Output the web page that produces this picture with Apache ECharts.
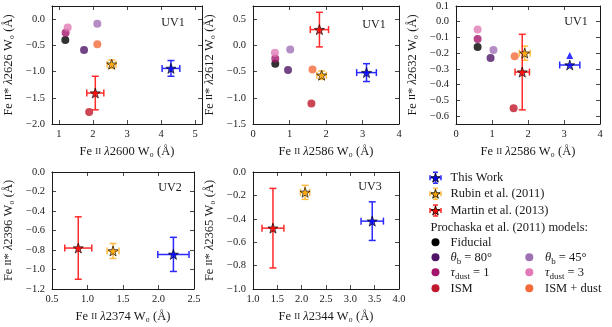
<!DOCTYPE html>
<html>
<head>
<meta charset="utf-8">
<script src="https://cdn.jsdelivr.net/npm/echarts@6/dist/echarts.min.js"></script>
<style>
  html, body { margin: 0; padding: 0; background: #fff; }
  #chart { width: 612px; height: 327px; }
</style>
</head>
<body>
<div id="chart"></div>
<script>
// model order: Fiducial, theta80, tau1, ISM, theta45, tau3, ISM+dust
const modelNames = ["Fiducial", "θb = 80°", "τdust = 1", "ISM", "θb = 45°", "τdust = 3", "ISM + dust"];

// panel 1: Fe II 2600 vs Fe II* 2626
const p1ModelX = [1.19, 1.74, 1.20, 1.89, 2.13, 1.26, 2.13];
const p1ModelY = [-0.40, -0.59, -0.26, -1.77, -0.09, -0.16, -0.48];
// panel 2: Fe II 2586 vs Fe II* 2612
const p2ModelX = [0.61, 0.96, 0.61, 1.60, 1.02, 0.60, 1.63];
const p2ModelY = [-0.35, -0.47, -0.25, -1.11, -0.08, -0.14, -0.46];
// panel 3: Fe II 2586 vs Fe II* 2632
const p3ModelX = [0.60, 0.96, 0.60, 1.60, 1.04, 0.60, 1.63];
const p3ModelY = [-0.16, -0.23, -0.11, -0.55, -0.18, -0.05, -0.22];

// observations [x, y, xerr, yerr]
const thisWork = [[4.29, -0.94, 0.26, 0.15], [3.11, -0.52, 0.27, 0.17], [3.16, -0.275, 0.28, 0], [2.21, -0.845, 0.22, 0.175], [3.45, -0.42, 0.23, 0.165]];
const rubin = [[2.55, -0.86, 0.13, 0.08], [1.88, -0.57, 0.13, 0.08], [1.91, -0.20, 0.15, 0.045], [1.36, -0.81, 0.084, 0.077], [2.07, -0.174, 0.095, 0.06]];
const martin = [[2.07, -1.41, 0.25, 0.32], [1.82, 0.30, 0.25, 0.33], [1.84, -0.32, 0.20, 0.24], [0.87, -0.78, 0.19, 0.32], [1.41, -0.48, 0.225, 0.34]];
const thisWorkLimitP3 = [[3.16, -0.215]];

// axes
const xLines = ["2600", "2586", "2586", "2374", "2344"];
const yLines = ["2626", "2612", "2632", "2396", "2365"];
const panelTags = ["UV1", "UV1", "UV1", "UV2", "UV3"];
const xRanges = [[0.8, 5.2], [0, 4], [0, 4], [0.5, 2.5], [1, 4]];
const yRanges = [[-2.0, 0.25], [-1.5, 0.75], [-0.65, 0.1], [-1.2, 0], [-1.0, 0]];
const xTicks = [[1, 2, 3, 4, 5], [0, 1, 2, 3, 4], [0, 1, 2, 3, 4], [0.5, 1.0, 1.5, 2.0, 2.5], [1.0, 1.5, 2.0, 2.5, 3.0, 3.5, 4.0]];
const yTicks = [[-2.0, -1.5, -1.0, -0.5, 0.0], [-1.5, -1.0, -0.5, 0.0, 0.5], [-0.6, -0.5, -0.4, -0.3, -0.2, -0.1, 0.0, 0.1], [-1.2, -1.0, -0.8, -0.6, -0.4, -0.2, 0.0], [-1.0, -0.8, -0.6, -0.4, -0.2, 0.0]];
const xDec = [0, 0, 0, 1, 1];
const yDec = [1, 1, 1, 1, 1];

const FONT = "'Liberation Serif', 'DejaVu Serif', serif";
const INK = "#1a1a1a";
const modelColors = ["#000000", "#4f1466", "#a3156a", "#c0182c", "#a070b5", "#e17ab7", "#f46a3a"];
const obsStyle = [
  { name: "This Work", fill: "#0000ff", bar: "#2a2aff" },
  { name: "Rubin et al. (2011)", fill: "#ffa500", bar: "#ffbb44" },
  { name: "Martin et al. (2013)", fill: "#ff0000", bar: "#ff2a2a" }
];
const grids = [
  { left: 52, top: 6, width: 150, height: 118 },
  { left: 253, top: 6, width: 146, height: 118 },
  { left: 456, top: 6, width: 144, height: 118 },
  { left: 52, top: 172, width: 142, height: 117 },
  { left: 253, top: 172, width: 146, height: 117 }
];
const tagPos = [[173, 23], [374, 25], [576, 22], [170, 187.5], [370, 186.5]];

const STAR = "path://M0,-10L2.35,-3.24L9.51,-3.09L3.8,1.24L5.88,8.09L0,4L-5.88,8.09L-3.8,1.24L-9.51,-3.09L-2.35,-3.24Z";

const nameRich = {
  n: { fontFamily: FONT, fontSize: 12.5, color: INK },
  sc: { fontFamily: FONT, fontSize: 9, color: INK },
  i: { fontFamily: FONT, fontSize: 12.5, fontStyle: "italic", color: INK }
};

function fmt(v, d) {
  return v.toFixed(d).replace("-", "\u2212");
}

function errRender(params, api) {
  const x = api.value(0), y = api.value(1), ex = api.value(2), ey = api.value(3);
  const color = api.visual("color");
  const cap = 3.5;
  const style = { stroke: color, lineWidth: 1.5 };
  const kids = [];
  if (ex > 0) {
    const l = api.coord([x - ex, y]), r = api.coord([x + ex, y]);
    kids.push({ type: "line", shape: { x1: l[0], y1: l[1], x2: r[0], y2: r[1] }, style: style });
    kids.push({ type: "line", shape: { x1: l[0], y1: l[1] - cap, x2: l[0], y2: l[1] + cap }, style: style });
    kids.push({ type: "line", shape: { x1: r[0], y1: r[1] - cap, x2: r[0], y2: r[1] + cap }, style: style });
  }
  if (ey > 0) {
    const t = api.coord([x, y + ey]), b = api.coord([x, y - ey]);
    kids.push({ type: "line", shape: { x1: t[0], y1: t[1], x2: b[0], y2: b[1] }, style: style });
    kids.push({ type: "line", shape: { x1: t[0] - cap, y1: t[1], x2: t[0] + cap, y2: t[1] }, style: style });
    kids.push({ type: "line", shape: { x1: b[0] - cap, y1: b[1], x2: b[0] + cap, y2: b[1] }, style: style });
  }
  return { type: "group", children: kids };
}

const xAxes = [], yAxes = [], series = [];
const models = [[p1ModelX, p1ModelY], [p2ModelX, p2ModelY], [p3ModelX, p3ModelY]];

grids.forEach(function (g, i) {
  const tickBase = { show: true, inside: true, length: 4, lineStyle: { color: INK, width: 0.8 } };
  const lineBase = { show: true, onZero: false, lineStyle: { color: INK, width: 1 } };
  xAxes.push({
    type: "value", gridIndex: i, position: "bottom", min: xRanges[i][0], max: xRanges[i][1],
    axisLine: lineBase, splitLine: { show: false },
    axisTick: Object.assign({ customValues: xTicks[i] }, tickBase),
    axisLabel: { customValues: xTicks[i], margin: 5, fontFamily: FONT, fontSize: 10.5, color: INK,
      formatter: function (v) { return fmt(v, xDec[i]); } },
    name: "{n|Fe }{sc|II}{n| }{i|λ}{n|" + xLines[i] + " W₀ (Å)}",
    nameLocation: "middle", nameGap: 21, nameTextStyle: { rich: nameRich }
  });
  xAxes.push({
    type: "value", gridIndex: i, position: "top", min: xRanges[i][0], max: xRanges[i][1],
    axisLine: lineBase, splitLine: { show: false },
    axisTick: Object.assign({ customValues: xTicks[i] }, tickBase),
    axisLabel: { show: false }
  });
  yAxes.push({
    type: "value", gridIndex: i, position: "left", min: yRanges[i][0], max: yRanges[i][1],
    axisLine: lineBase, splitLine: { show: false },
    axisTick: Object.assign({ customValues: yTicks[i] }, tickBase),
    axisLabel: { customValues: yTicks[i], margin: 7, fontFamily: FONT, fontSize: 10.5, color: INK,
      formatter: function (v) { return fmt(v, yDec[i]); } },
    name: "{n|Fe }{sc|II}{n|* }{i|λ}{n|" + yLines[i] + " W₀ (Å)}",
    nameLocation: "middle", nameGap: 37, nameRotate: 90, nameTextStyle: { rich: nameRich }
  });
  yAxes.push({
    type: "value", gridIndex: i, position: "right", min: yRanges[i][0], max: yRanges[i][1],
    axisLine: lineBase, splitLine: { show: false },
    axisTick: Object.assign({ customValues: yTicks[i] }, tickBase),
    axisLabel: { show: false }
  });

  const ax = { xAxisIndex: 2 * i, yAxisIndex: 2 * i };
  if (i < 3) {
    series.push(Object.assign({
      type: "scatter", symbol: "circle", symbolSize: 8, z: 2, silent: true,
      data: models[i][0].map(function (x, k) {
        return { value: [x, models[i][1][k]], itemStyle: { color: modelColors[k] } };
      })
    }, ax));
  }
  [thisWork, rubin, martin].forEach(function (set, s) {
    series.push(Object.assign({
      type: "custom", name: obsStyle[s].name, z: 3, silent: true,
      itemStyle: { color: obsStyle[s].bar },
      renderItem: errRender, encode: { x: 0, y: 1 },
      data: [set[i]]
    }, ax));
    series.push(Object.assign({
      type: "scatter", symbol: STAR, symbolSize: 10, z: 4, silent: true,
      itemStyle: { color: obsStyle[s].fill, borderColor: "#000", borderWidth: 0.8 },
      data: [[set[i][0], set[i][1]]]
    }, ax));
  });
  if (i === 2) {
    series.push(Object.assign({
      type: "scatter", symbol: "triangle", symbolSize: 7, z: 4, silent: true,
      itemStyle: { color: "#0000ff" }, data: thisWorkLimitP3
    }, ax));
  }
});

// legend drawn as graphic
const measureCtx = document.createElement("canvas").getContext("2d");
function textWidth(t, size, italic) {
  measureCtx.font = (italic ? "italic " : "") + size + "px " + FONT;
  return measureCtx.measureText(t).width;
}
function richPieces(x, y, parts) {
  // parts: [text, kind] kind: n, i, sub
  const out = [];
  let cx = x;
  parts.forEach(function (p) {
    const sub = p[1] === "sub";
    const size = sub ? 9 : 12.5;
    const italic = p[1] === "i";
    out.push({ type: "text", x: cx, y: sub ? y + 4 : y,
      style: { text: p[0], fontFamily: FONT, fontSize: size, fontStyle: italic ? "italic" : "normal",
        fill: INK, verticalAlign: "middle" } });
    cx += textWidth(p[0], size, italic);
  });
  return out;
}
function starPts(cx, cy, R) {
  const pts = [];
  for (let k = 0; k < 10; k++) {
    const rr = k % 2 === 0 ? R : R * 0.4;
    const a = -Math.PI / 2 + k * Math.PI / 5;
    pts.push([cx + rr * Math.cos(a), cy + rr * Math.sin(a)]);
  }
  return pts;
}
const graphic = [];
panelTags.forEach(function (t, i) {
  graphic.push({ type: "text", x: tagPos[i][0], y: tagPos[i][1],
    style: { text: t, fontFamily: FONT, fontSize: 12, fill: INK, align: "center", verticalAlign: "middle" } });
});
const LX = 435.5, TX = 450.5;
const obsRows = [177.7, 193.8, 210.5];
obsStyle.forEach(function (o, k) {
  const y = obsRows[k], h = 5.5, c = 2.5;
  const st = { stroke: o.bar, lineWidth: 1.5 };
  graphic.push({ type: "line", shape: { x1: LX - h, y1: y, x2: LX + h, y2: y }, style: st });
  graphic.push({ type: "line", shape: { x1: LX, y1: y - h, x2: LX, y2: y + h }, style: st });
  graphic.push({ type: "line", shape: { x1: LX - h, y1: y - c, x2: LX - h, y2: y + c }, style: st });
  graphic.push({ type: "line", shape: { x1: LX + h, y1: y - c, x2: LX + h, y2: y + c }, style: st });
  graphic.push({ type: "line", shape: { x1: LX - c, y1: y - h, x2: LX + c, y2: y - h }, style: st });
  graphic.push({ type: "line", shape: { x1: LX - c, y1: y + h, x2: LX + c, y2: y + h }, style: st });
  graphic.push({ type: "polygon", shape: { points: starPts(LX, y + 0.5, 4.8) },
    style: { fill: o.fill, stroke: "#000", lineWidth: 0.8 } });
  graphic.push({ type: "text", x: TX, y: y,
    style: { text: o.name, fontFamily: FONT, fontSize: 12.5, fill: INK, verticalAlign: "middle" } });
});
graphic.push({ type: "text", x: 430.5, y: 227.3,
  style: { text: "Prochaska et al. (2011) models:", fontFamily: FONT, fontSize: 12.5, fill: INK, verticalAlign: "middle" } });

const modelLabels = [
  [["Fiducial", "n"]],
  [["θ", "i"], ["b", "sub"], [" = 80°", "n"]],
  [["τ", "i"], ["dust", "sub"], [" = 1", "n"]],
  [["ISM", "n"]],
  [["θ", "i"], ["b", "sub"], [" = 45°", "n"]],
  [["τ", "i"], ["dust", "sub"], [" = 3", "n"]],
  [["ISM + dust", "n"]]
];
const modelPos = [[LX, TX, 242.3], [LX, TX, 257.3], [LX, TX, 272.3], [LX, TX, 288.3],
  [529.3, 545, 257.3], [529.3, 545, 272.3], [529.3, 545, 288.3]];
modelLabels.forEach(function (lab, k) {
  const p = modelPos[k];
  graphic.push({ type: "circle", shape: { cx: p[0], cy: p[2], r: 4 }, style: { fill: modelColors[k] } });
  richPieces(p[1], p[2], lab).forEach(function (el) { graphic.push(el); });
});

const chart = echarts.init(document.getElementById("chart"), null, { renderer: "canvas" });
chart.setOption({
  animation: false,
  backgroundColor: "#fff",
  grid: grids,
  xAxis: xAxes,
  yAxis: yAxes,
  series: series,
  graphic: graphic
});
</script>
</body>
</html>
